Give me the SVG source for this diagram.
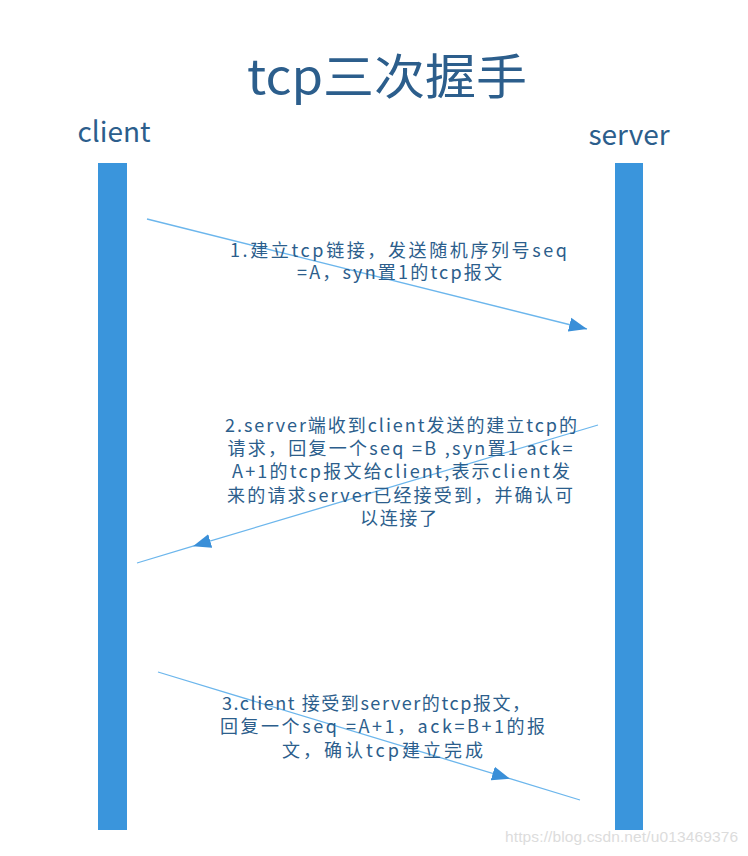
<svg xmlns="http://www.w3.org/2000/svg" width="748" height="856" viewBox="0 0 748 856">
<style>
.t{font-family:"Noto Sans CJK SC","Noto Sans",sans-serif;fill:#2c5e8c;text-anchor:middle}
.lbl{font-size:18px}
.bar{fill:#3a95dc}
.ln{stroke:#6cb6ec;stroke-width:1.3;fill:none}
</style>
<defs>
<marker id="ah" markerUnits="userSpaceOnUse" markerWidth="20" markerHeight="16" viewBox="0 0 20 16" refX="18" refY="8" orient="auto">
<path d="M0,1 L18,8 L0,15 Z" fill="#3a8fd8"/>
</marker>
</defs>
<rect width="748" height="856" fill="#fff"/>
<text class="t" x="387" y="94" font-size="48" textLength="280" lengthAdjust="spacingAndGlyphs">tcp三次握手</text>
<g id="client">
<text class="t" x="114" y="142" font-size="28">client</text>
<rect class="bar" x="98" y="163" width="29" height="667"/>
</g>
<g id="server">
<text class="t" x="629" y="145" font-size="28">server</text>
<rect class="bar" x="615" y="163" width="28" height="667"/>
</g>
<g id="connectors">
<path class="ln" d="M147,219 L587,329" marker-end="url(#ah)"/>
<path class="ln" d="M598,425 L193,546.2 L137,563" marker-mid="url(#ah)"/>
<path class="ln" d="M158,672 L510,778.7 L580,800" marker-mid="url(#ah)"/>
</g>
<g id="label1">
<text class="t lbl" x="398.5" y="257" textLength="337">1.建立tcp链接，发送随机序列号seq</text>
<text class="t lbl" x="399.5" y="279" textLength="205">=A，syn置1的tcp报文</text>
</g>
<g id="label2">
<text class="t lbl" x="401" y="432" textLength="352">2.server端收到client发送的建立tcp的</text>
<text class="t lbl" x="400" y="455" textLength="345">请求，回复一个seq =B ,syn置1 ack=</text>
<text class="t lbl" x="401" y="478" textLength="338">A+1的tcp报文给client,表示client发</text>
<text class="t lbl" x="400" y="502" textLength="346">来的请求server已经接受到，并确认可</text>
<text class="t lbl" x="398.5" y="525" textLength="77">以连接了</text>
</g>
<g id="label3">
<text class="t lbl" x="376" y="710" textLength="308">3.client 接受到server的tcp报文，</text>
<text class="t lbl" x="382.5" y="733" textLength="325">回复一个seq =A+1，ack=B+1的报</text>
<text class="t lbl" x="382.5" y="757" textLength="201">文，确认tcp建立完成</text>
</g>
<text x="738" y="842" text-anchor="end" font-family="'Liberation Sans',sans-serif" font-size="15.5" fill="#dcdcdc" textLength="233">https://blog.csdn.net/u013469376</text>
</svg>
